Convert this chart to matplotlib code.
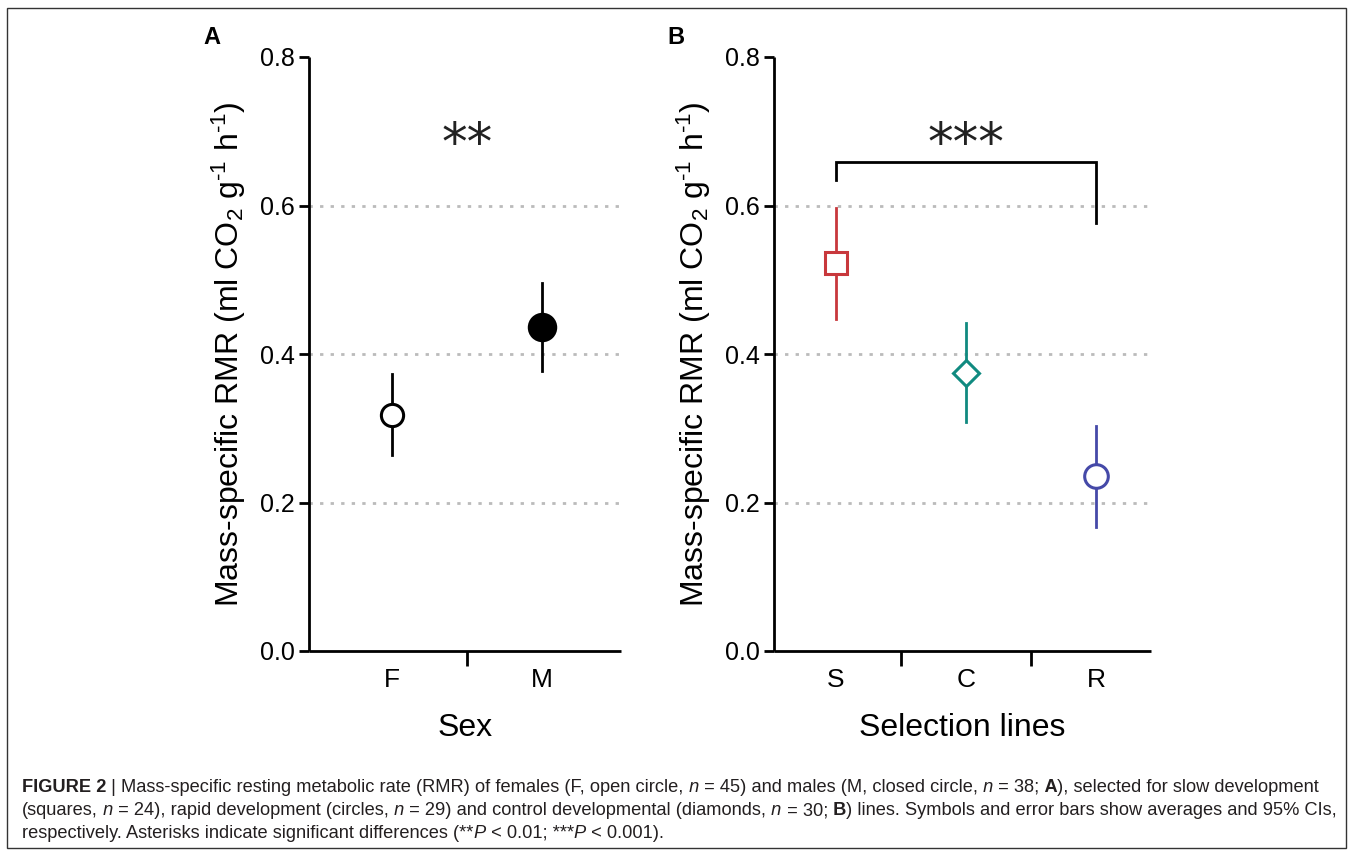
import matplotlib
matplotlib.use('Agg')
import matplotlib.pyplot as plt
from matplotlib import font_manager as fm
from matplotlib.patches import Rectangle

# ---------------- data ----------------
sex_labels = ['F', 'M']
sex_mean = [0.318, 0.436]
sex_lo = [0.264, 0.377]
sex_hi = [0.373, 0.496]

line_labels = ['S', 'C', 'R']
line_mean = [0.522, 0.374, 0.236]
line_lo = [0.447, 0.308, 0.167]
line_hi = [0.597, 0.442, 0.303]
line_colors = ['#C8383C', '#108A80', '#4549A8']
line_markers = ['s', 'D', 'o']

yticks = [0.0, 0.2, 0.4, 0.6, 0.8]
ytick_labels = ['0.0', '0.2', '0.4', '0.6', '0.8']

bracket_top = 0.659
bracket_left_end = 0.634
bracket_right_end = 0.576

W, H = 1354, 858
plt.rcParams['font.family'] = ['Liberation Sans', 'DejaVu Sans']
plt.rcParams['mathtext.fontset'] = 'custom'
plt.rcParams['mathtext.rm'] = 'Liberation Sans'
plt.rcParams['mathtext.it'] = 'Liberation Sans:italic'
plt.rcParams['mathtext.bf'] = 'Liberation Sans:bold'

fig = plt.figure(figsize=(W / 100, H / 100), dpi=100)


def px_axes(l, r, t, b):
    return fig.add_axes([l / W, 1 - b / H, (r - l) / W, (b - t) / H])


ylabel = r'Mass-specific RMR (ml CO$_2$ g$^{\text{-}1}$ h$^{\text{-}1}$)'


def style_axes(ax, labels, xlim, xlabel):
    ax.set_ylim(0, 0.8)
    ax.set_xlim(*xlim)
    for s in ['top', 'right']:
        ax.spines[s].set_visible(False)
    for s in ['left', 'bottom']:
        ax.spines[s].set_linewidth(2.0)
        ax.spines[s].set_capstyle('butt')
    ax.set_yticks(yticks)
    ax.set_yticklabels(ytick_labels)
    ax.tick_params(axis='y', length=7, width=2.0, pad=3, labelsize=18)
    n = len(labels)
    ax.set_xticks(range(1, n + 1))
    ax.set_xticklabels(labels)
    ax.set_xticks([i + 0.5 for i in range(1, n)], minor=True)
    ax.tick_params(axis='x', which='major', length=0, pad=12, labelsize=19)
    ax.tick_params(axis='x', which='minor', length=11, width=2.0)
    for yv in yticks[1:-1]:
        ax.axhline(yv, color='#BBBBBB', lw=2.0, ls=(0, (1.2, 2.6)), zorder=0)
    ax.set_xlabel(xlabel, fontsize=23, labelpad=15)
    ax.set_ylabel(ylabel, fontsize=23, labelpad=9)


# ---------------- Panel A ----------------
axA = px_axes(309, 621, 57, 651)
style_axes(axA, sex_labels, (0.443, 2.53), 'Sex')
xs = list(range(1, len(sex_labels) + 1))
faces = ['white', 'black']
sizes = [16, 19]
for i, x in enumerate(xs):
    axA.plot([x, x], [sex_lo[i], sex_hi[i]], color='black', lw=2.0, zorder=2)
    axA.plot([x], [sex_mean[i]], marker='o', ms=sizes[i], mfc=faces[i], mec='black',
             mew=2.2, zorder=3, ls='none')
axA.text(1.5, 0.680, '**', ha='center', va='center', fontsize=37,
         family='DejaVu Sans', color='#222222')

# ---------------- Panel B ----------------
axB = px_axes(774, 1151, 57, 651)
style_axes(axB, line_labels, (0.523, 3.42), 'Selection lines')
xs = list(range(1, len(line_labels) + 1))
msz = [15.5, 13.5, 17]
for i, x in enumerate(xs):
    axB.plot([x, x], [line_lo[i], line_hi[i]], color=line_colors[i], lw=2.0, zorder=2)
    axB.plot([x], [line_mean[i]], marker=line_markers[i], ms=msz[i], mfc='white',
             mec=line_colors[i], mew=2.2, zorder=3, ls='none')
axB.plot([1, 1, 3, 3], [bracket_left_end, bracket_top, bracket_top, bracket_right_end],
         color='black', lw=2.0, zorder=2, solid_joinstyle='miter')
axB.text(2.0, 0.680, '***', ha='center', va='center', fontsize=37,
         family='DejaVu Sans', color='#222222')

# panel letters
fig.text(212 / W, 1 - 38 / H, 'A', fontsize=17, weight='bold', ha='center', va='center')
fig.text(676 / W, 1 - 38 / H, 'B', fontsize=17, weight='bold', ha='center', va='center')

# border
fig.add_artist(Rectangle((7 / W, 1 - 848 / H), (1346 - 7) / W, (848 - 8) / H,
                         transform=fig.transFigure, fill=False, lw=1.0, ec='#333333'))

# ---------------- caption ----------------
cap_family = 'Liberation Sans'
try:
    fm.findfont(fm.FontProperties(family='Liberation Sans Narrow'), fallback_to_default=False)
    cap_family = 'Liberation Sans Narrow'
except Exception:
    pass

caption_lines = [
    [('FIGURE 2', 'bold', 'normal'), (' | Mass-specific resting metabolic rate (RMR) of females (F, open circle,', 'normal', 'normal'),
     (' n', 'normal', 'italic'), (' = 45) and males (M, closed circle,', 'normal', 'normal'), (' n', 'normal', 'italic'),
     (' = 38;', 'normal', 'normal'), (' A', 'bold', 'normal'), ('), selected for slow development', 'normal', 'normal')],
    [('(squares,', 'normal', 'normal'), (' n', 'normal', 'italic'), (' = 24), rapid development (circles,', 'normal', 'normal'),
     (' n', 'normal', 'italic'), (' = 29) and control developmental (diamonds,', 'normal', 'normal'), (' n', 'normal', 'italic'),
     (' = 30;', 'normal', 'normal'), (' B', 'bold', 'normal'),
     (') lines. Symbols and error bars show averages and 95% CIs,', 'normal', 'normal')],
    [('respectively. Asterisks indicate significant differences (**', 'normal', 'normal'), ('P', 'normal', 'italic'),
     (' < 0.01; ***', 'normal', 'normal'), ('P', 'normal', 'italic'), (' < 0.001).', 'normal', 'normal')],
]
cap_y = [792, 815, 838]
renderer = fig.canvas.get_renderer()


def draw_runs(runs, x0, ybase, size, draw=True):
    x = x0
    for txt, wt, st in runs:
        t = fig.text(x / W, 1 - ybase / H, txt, fontsize=size, family=cap_family,
                     weight=wt, style=st, ha='left', va='baseline', color='#231F20')
        bb = t.get_window_extent(renderer)
        x += bb.width
        if not draw:
            t.remove()
    return x - x0


# fit size so that first line spans ~1298 px
base = 10.0
wtest = draw_runs(caption_lines[0], 22, cap_y[0], base, draw=False)
cap_size = base * 1298 / wtest
for runs, yb in zip(caption_lines, cap_y):
    draw_runs(runs, 22, yb, cap_size)

fig.savefig('out.png', dpi=100)
